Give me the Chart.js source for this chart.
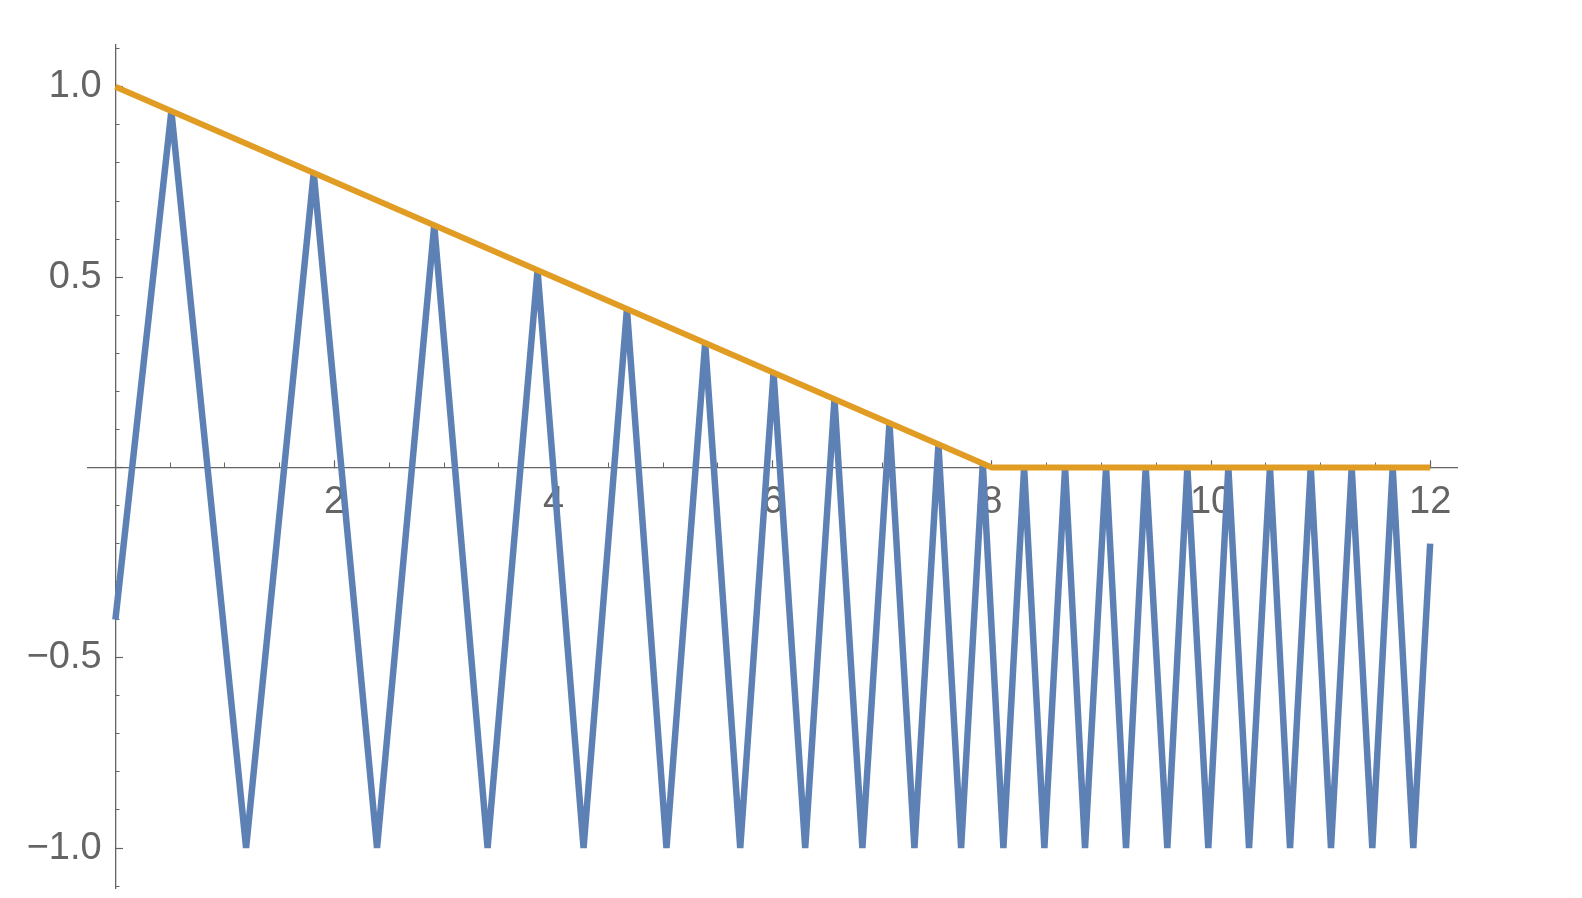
<!DOCTYPE html>
<html>
<head>
<meta charset="utf-8">
<script src="https://cdn.jsdelivr.net/npm/chart.js@4/dist/chart.umd.min.js"></script>
<style>
  html, body { margin: 0; padding: 0; background: #fff; }
  #wrap { width: 1582px; height: 898px; }
</style>
</head>
<body>
<div id="wrap"><canvas id="plot"></canvas></div>
<script>
// Datos
const waveX = [0, 0.511, 1.193, 1.81, 2.388, 2.91, 3.397, 3.853, 4.273, 4.669,
  5.030, 5.383, 5.703, 6.007, 6.296, 6.563, 6.818, 7.065, 7.293, 7.512,
  7.719, 7.917, 8.105, 8.294, 8.479, 8.668, 8.850, 9.042, 9.224, 9.404,
  9.601, 9.784, 9.975, 10.158, 10.347, 10.538, 10.721, 10.910, 11.095, 11.284,
  11.472, 11.658, 11.846, 12];
const waveY = [-0.4, 0.936, -1, 0.774, -1, 0.636, -1, 0.518, -1, 0.416,
  -1, 0.327, -1, 0.249, -1, 0.180, -1, 0.117, -1, 0.061,
  -1, 0.010, -1, 0, -1, 0, -1, 0, -1, 0,
  -1, 0, -1, 0, -1, 0, -1, 0, -1, 0,
  -1, 0, -1, -0.2];

const envX = [0, 8, 12];
const envY = [1, 0, 0];

const xMajorTicks = [2, 4, 6, 8, 10, 12];
const yMajorTicks = [-1, -0.5, 0.5, 1];

const axisGray = '#646464';
const labelFont = { family: 'Liberation Sans', size: 38 };

const toPoints = (xs, ys) => xs.map((x, i) => ({ x: x, y: ys[i] }));

// ejes centrados, sin ocupar espacio en el layout
const noSpace = (scale) => {
  if (scale.isHorizontal()) scale.height = 0; else scale.width = 0;
  scale.paddingLeft = scale.paddingRight = scale.paddingTop = scale.paddingBottom = 0;
};

const xRange = { min: -0.25, max: 12.245 };
const yRange = { min: -1.105, max: 1.11 };

const config = {
  type: 'scatter',
  data: {
    datasets: [{
      label: 'envolvente',
      data: toPoints(envX, envY),
      showLine: true,
      borderColor: '#E19C24',
      borderWidth: 6,
      pointRadius: 0,
      tension: 0,
      order: 0
    }, {
      label: 'onda',
      data: toPoints(waveX, waveY),
      showLine: true,
      borderColor: '#5E81B5',
      borderWidth: 6.5,
      borderJoinStyle: 'bevel',
      pointRadius: 0,
      tension: 0,
      order: 1
    }]
  },
  options: {
    responsive: true,
    maintainAspectRatio: false,
    animation: false,
    layout: { padding: { left: 88, right: 125, top: 45, bottom: 10 } },
    plugins: { legend: { display: false }, tooltip: { enabled: false } },
    scales: {
      x: {
        type: 'linear', ...xRange,
        position: { y: 0 },
        afterFit: noSpace,
        border: { color: axisGray, width: 1.3 },
        grid: { drawOnChartArea: false, tickLength: -8, tickColor: axisGray, tickWidth: 1.2 },
        ticks: {
          stepSize: 2, includeBounds: false, maxTicksLimit: 100, autoSkip: false,
          maxRotation: 0, padding: 20, color: axisGray, font: labelFont,
          callback: (v) => xMajorTicks.includes(v) ? String(v) : ''
        }
      },
      xm: {
        type: 'linear', ...xRange,
        position: { y: 0 },
        afterFit: noSpace,
        border: { display: false },
        grid: { drawOnChartArea: false, tickLength: -4.5, tickColor: axisGray, tickWidth: 1 },
        ticks: { display: false, stepSize: 0.5, includeBounds: false, maxTicksLimit: 100, autoSkip: false }
      },
      y: {
        type: 'linear', ...yRange,
        position: { x: 0 },
        afterFit: noSpace,
        border: { color: axisGray, width: 1.3 },
        grid: { drawOnChartArea: false, tickLength: -8, tickColor: axisGray, tickWidth: 1.2 },
        ticks: {
          stepSize: 0.5, includeBounds: false, maxTicksLimit: 100, autoSkip: false,
          color: axisGray, font: labelFont,
          // espacio final para separar la etiqueta del eje
          callback: (v) => yMajorTicks.includes(v) ? (v < 0 ? '\u2212' : '') + Math.abs(v).toFixed(1) + ' \u200A' : ''
        }
      },
      ym: {
        type: 'linear', ...yRange,
        position: { x: 0 },
        afterFit: noSpace,
        border: { display: false },
        grid: { drawOnChartArea: false, tickLength: -4.5, tickColor: axisGray, tickWidth: 1 },
        ticks: { display: false, stepSize: 0.1, includeBounds: false, maxTicksLimit: 100, autoSkip: false }
      }
    }
  }
};

const plot = new Chart(document.getElementById('plot'), config);
</script>
</body>
</html>
